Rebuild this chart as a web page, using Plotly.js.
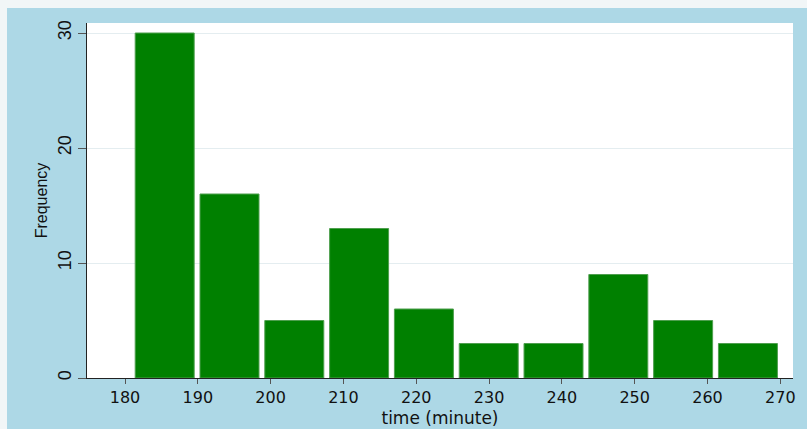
<!DOCTYPE html>
<html>
<head>
<meta charset="utf-8">
<script src="https://cdn.plot.ly/plotly-3.0.1.min.js"></script>
<style>
  html, body { margin: 0; padding: 0; background: #f1f6f7; width: 807px; height: 429px; overflow: hidden; }
  #chart { position: absolute; left: 7px; top: 8px; width: 800px; height: 421px; }
</style>
</head>
<body>
<div id="chart"></div>
<script>
// Histogram of time (minute): bin centers and frequencies
const binCenters = [185.45, 194.35, 203.25, 212.15, 221.05, 229.95, 238.85, 247.75, 256.65, 265.55];
const frequency  = [30, 16, 5, 13, 6, 3, 3, 9, 5, 3];
const xTicks = [180, 190, 200, 210, 220, 230, 240, 250, 260, 270];
const yTicks = [0, 10, 20, 30];

const trace = {
  type: 'bar',
  x: binCenters,
  y: frequency,
  width: 8.1,
  marker: { color: '#008000', line: { color: '#4f9f4f', width: 1 } },
  hoverinfo: 'skip'
};

const layout = {
  width: 800, height: 421,
  margin: { l: 80, r: 14, t: 15, b: 51 },
  paper_bgcolor: '#add8e6',
  plot_bgcolor: '#ffffff',
  showlegend: false,
  xaxis: {
    range: [174.78, 271.74],
    tickvals: xTicks,
    ticktext: xTicks.map(String),
    ticks: 'outside', ticklen: 5, tickwidth: 1, tickcolor: '#555',
    showline: true, linecolor: '#222', linewidth: 1,
    showgrid: false, zeroline: false,
    tickfont: { family: 'DejaVu Sans', size: 16, color: '#111' },
    title: { text: 'time (minute)', font: { family: 'DejaVu Sans', size: 17, color: '#111' }, standoff: 5 },
    automargin: false
  },
  yaxis: {
    range: [0, 30.87],
    tickvals: yTicks,
    ticktext: yTicks.map(String),
    tickangle: -90,
    ticks: 'outside', ticklen: 8, tickwidth: 1, tickcolor: '#555',
    showline: true, linecolor: '#222', linewidth: 1,
    showgrid: true, gridcolor: '#e4edf0', gridwidth: 1,
    zeroline: false,
    tickfont: { family: 'Liberation Sans', size: 18, color: '#111' },
    title: { text: 'Frequency', font: { family: 'Liberation Sans', size: 16, color: '#111' }, standoff: 3 },
    automargin: false
  }
};

Plotly.newPlot('chart', [trace], layout, { displayModeBar: false, staticPlot: true });
</script>
</body>
</html>
